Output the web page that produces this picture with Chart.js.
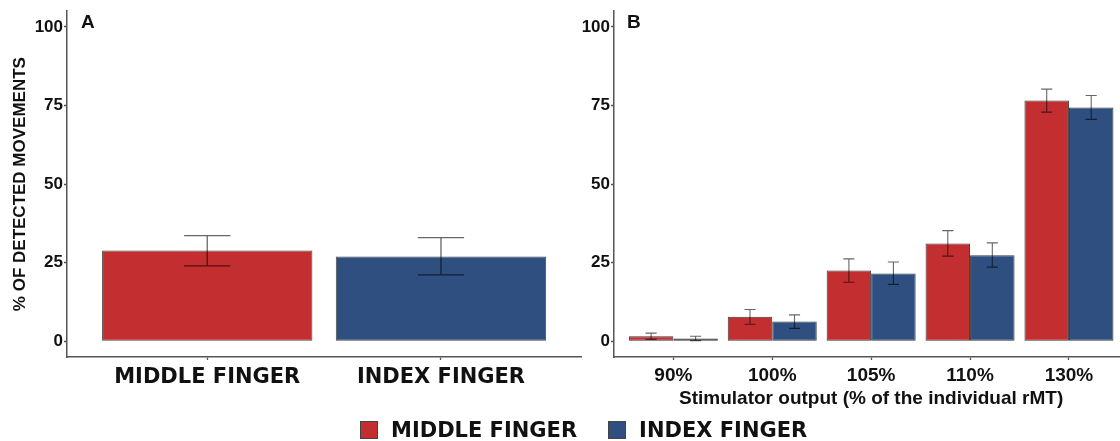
<!DOCTYPE html>
<html lang="en">
<head>
  <meta charset="UTF-8" />
  <title>Detected movements</title>
  <script src="https://cdn.jsdelivr.net/npm/chart.js"></script>
  <style>
    body {
      margin: 0;
      padding: 0;
      background: #fff;
      width: 1120px;
      height: 441px;
      overflow: hidden;
      position: relative;
      font-family: 'Liberation Sans', Arial, sans-serif;
    }
    canvas { position: absolute; top: 0; }
    #panelA { left: 0; }
    #panelB { left: 575px; }
    .leyenda {
      position: absolute;
      left: 360px;
      top: 421px;
      display: flex;
      align-items: center;
      font-family: 'DejaVu Sans', Verdana, sans-serif;
      font-weight: 700;
      font-size: 21px;
      color: #111;
    }
    .leyenda .caja {
      width: 16px;
      height: 16px;
      border: 1px solid #444;
      margin-right: 13px;
    }
    .leyenda .txt { margin-right: 31px; line-height: 18px; }
  </style>
</head>
<body>
  <canvas id="panelA" width="600" height="441"></canvas>
  <canvas id="panelB" width="565" height="441"></canvas>

  <div class="leyenda">
    <div class="caja" style="background:#C32E31"></div><span class="txt">MIDDLE FINGER</span>
    <div class="caja" style="background:#2E4F7F"></div><span class="txt">INDEX FINGER</span>
  </div>

  <script>
    // panel A: overall
    const fingers = ['MIDDLE FINGER', 'INDEX FINGER'];
    const fingerMean = [28.9, 27.0];
    const fingerLo = [24.0, 21.1];
    const fingerHi = [33.6, 33.0];

    // panel B: by stimulator output
    const levels = ['90%', '100%', '105%', '110%', '130%'];
    const middleMean = [1.6, 7.8, 22.5, 31.1, 76.6];
    const middleLo = [0.6, 5.4, 18.8, 27.1, 72.9];
    const middleHi = [2.6, 10.1, 26.2, 35.2, 80.2];
    const indexMean = [0.9, 6.3, 21.6, 27.4, 74.4];
    const indexLo = [0.2, 4.1, 18.1, 23.6, 70.6];
    const indexHi = [1.6, 8.4, 25.2, 31.3, 78.2];

    const yTicks = [0, 25, 50, 75, 100];

    const rojo = '#C32E31';
    const azul = '#2E4F7F';
    const ejeColor = '#555';

    Chart.defaults.font.family = '"Liberation Sans", Arial, sans-serif';
    Chart.defaults.color = '#111';
    Chart.defaults.animation = false;

    const errorBars = {
      id: 'errorBars',
      afterDatasetsDraw(chart, args, opts) {
        const ctx = chart.ctx;
        const y = chart.scales.y;
        ctx.save();
        ctx.strokeStyle = 'rgba(0,0,0,0.6)';
        ctx.lineWidth = opts.lineWidth || 1.2;
        chart.data.datasets.forEach((ds, di) => {
          const meta = chart.getDatasetMeta(di);
          meta.data.forEach((bar, i) => {
            const { x, width } = bar.getProps(['x', 'width'], true);
            const top = y.getPixelForValue(ds.errHi[i]);
            const bot = y.getPixelForValue(ds.errLo[i]);
            const half = width * opts.cap / 2;
            ctx.beginPath();
            ctx.moveTo(x, top); ctx.lineTo(x, bot);
            ctx.moveTo(x - half, top); ctx.lineTo(x + half, top);
            ctx.moveTo(x - half, bot); ctx.lineTo(x + half, bot);
            ctx.stroke();
          });
        });
        ctx.restore();
      }
    };

    const panelTag = {
      id: 'panelTag',
      afterDraw(chart, args, opts) {
        const ctx = chart.ctx;
        ctx.save();
        ctx.font = 'bold 19px "Liberation Sans", Arial, sans-serif';
        ctx.fillStyle = '#111';
        ctx.textBaseline = 'middle';
        ctx.fillText(opts.text, chart.chartArea.left + opts.dx, 23);
        ctx.restore();
      }
    };

    function yScale(width, withTitle) {
      return {
        min: -5,
        max: 105,
        afterBuildTicks: (s) => { s.ticks = yTicks.map(v => ({ value: v })); },
        afterFit: (s) => { s.width = width; },
        grid: { drawOnChartArea: false, tickLength: 3, tickColor: ejeColor, tickWidth: 1.3 },
        border: { color: ejeColor, width: 1.5 },
        ticks: { padding: 1, color: '#111', font: { size: 17, weight: 'bold' } },
        title: {
          display: withTitle,
          text: '% OF DETECTED MOVEMENTS',
          color: '#111',
          font: { size: 17, weight: 'bold' },
          padding: { top: 10, bottom: 0 }
        }
      };
    }

    function xScale(names, tickFont, pad, title) {
      return {
        type: 'linear',
        offset: false,
        min: 0.4,
        max: names.length + 0.6,
        afterBuildTicks: (s) => { s.ticks = names.map((_, i) => ({ value: i + 1 })); },
        afterFit: (s) => { s.height = 84; },
        grid: { drawOnChartArea: false, offset: false, tickLength: 3, tickColor: ejeColor, tickWidth: 1.3 },
        border: { color: ejeColor, width: 1.5 },
        ticks: {
          autoSkip: false,
          maxRotation: 0,
          padding: pad,
          color: '#111',
          font: tickFont,
          callback: (v) => names[v - 1]
        },
        title: title ? {
          display: true,
          text: title,
          color: '#111',
          font: { size: 19, weight: 'bold' },
          padding: { top: 0, bottom: 31 }
        } : { display: false }
      };
    }

    new Chart(document.getElementById('panelA'), {
      type: 'bar',
      data: {
        datasets: [{
          data: fingers.map((f, i) => ({ x: i + 1, y: fingerMean[i] })),
          errLo: fingerLo,
          errHi: fingerHi,
          backgroundColor: [rojo, azul],
          borderColor: '#4a4a4a',
          borderWidth: 1,
          borderSkipped: false,
          barPercentage: 0.9,
          categoryPercentage: 1
        }]
      },
      options: {
        responsive: false,
        layout: { padding: { left: 0, right: 18.8, top: 8, bottom: 0 } },
        scales: {
          x: xScale(fingers, { family: '"DejaVu Sans", Verdana, sans-serif', size: 21, weight: 'bold' }, 5, null),
          y: yScale(67, true)
        },
        plugins: {
          legend: { display: false },
          tooltip: { enabled: false },
          errorBars: { cap: 0.22, lineWidth: 1.3 },
          panelTag: { text: 'A', dx: 14 }
        }
      },
      plugins: [errorBars, panelTag]
    });

    new Chart(document.getElementById('panelB'), {
      type: 'bar',
      data: {
        datasets: [
          {
            label: 'MIDDLE FINGER',
            data: levels.map((l, i) => ({ x: i + 1, y: middleMean[i] })),
            errLo: middleLo,
            errHi: middleHi,
            backgroundColor: rojo,
            borderColor: '#3a3a3a',
            borderWidth: 1,
            borderSkipped: false,
            barPercentage: 1,
            categoryPercentage: 0.9
          },
          {
            label: 'INDEX FINGER',
            data: levels.map((l, i) => ({ x: i + 1, y: indexMean[i] })),
            errLo: indexLo,
            errHi: indexHi,
            backgroundColor: azul,
            borderColor: '#3a3a3a',
            borderWidth: 1,
            borderSkipped: false,
            barPercentage: 1,
            categoryPercentage: 0.9
          }
        ]
      },
      options: {
        responsive: false,
        layout: { padding: { left: 0, right: 11.7, top: 8, bottom: 0 } },
        scales: {
          x: xScale(levels, { size: 19, weight: 'bold' }, 4, 'Stimulator output (% of the individual rMT)'),
          y: yScale(39, false)
        },
        plugins: {
          legend: { display: false },
          tooltip: { enabled: false },
          errorBars: { cap: 0.25, lineWidth: 1.1 },
          panelTag: { text: 'B', dx: 13 }
        }
      },
      plugins: [errorBars, panelTag]
    });
  </script>
</body>
</html>
